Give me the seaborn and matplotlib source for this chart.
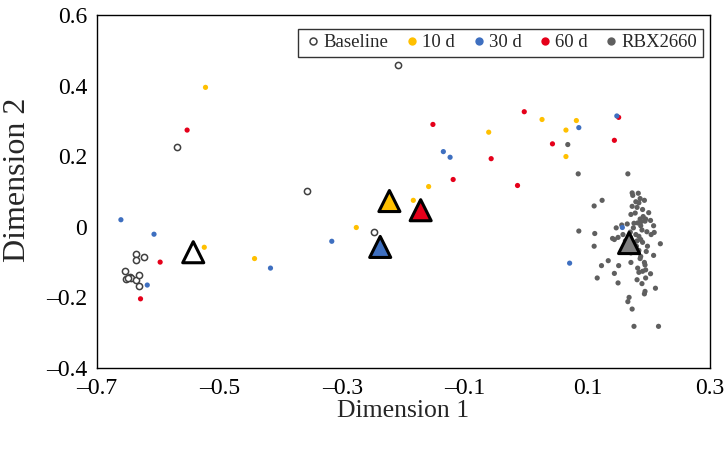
import matplotlib
matplotlib.use("Agg")
import matplotlib.pyplot as plt
import seaborn as sns
import pandas as pd
from matplotlib.lines import Line2D

sns.set_theme(style="white")
plt.rcParams['font.family'] = ['Liberation Serif', 'DejaVu Serif']

# ---- data ----
baseline_x = [-0.637, -0.623, -0.636, -0.654, -0.652, -0.646, -0.644, -0.637, -0.632, -0.632, -0.649,
              -0.570, -0.358, -0.209, -0.248]
baseline_y = [-0.077, -0.085, -0.095, -0.126, -0.147, -0.143, -0.146, -0.151, -0.137, -0.167, -0.145,
              0.227, 0.100, 0.458, -0.014]

d10_x = [-0.523, -0.525, -0.443, -0.277, -0.184, -0.159, -0.061, 0.026, 0.082, 0.065, 0.065]
d10_y = [0.395, -0.058, -0.090, -0.002, 0.075, 0.114, 0.268, 0.304, 0.301, 0.274, 0.199]

d30_x = [-0.661, -0.607, -0.618, -0.417, -0.317, -0.135, -0.124, 0.086, 0.148, 0.071, 0.157]
d30_y = [0.020, -0.021, -0.165, -0.117, -0.041, 0.213, 0.197, 0.281, 0.314, -0.103, -0.002]

d60_x = [-0.553, -0.597, -0.629, -0.152, -0.119, -0.057, -0.014, -0.003, 0.043, 0.144, 0.151]
d60_y = [0.274, -0.100, -0.204, 0.290, 0.134, 0.193, 0.117, 0.326, 0.235, 0.245, 0.310]

rbx_x = [0.085, 0.166, 0.068, 0.124, 0.111, 0.086, 0.173, 0.183, 0.174, 0.179, 0.184, 0.193, 0.190,
         0.171, 0.178, 0.191, 0.186, 0.194, 0.182, 0.188, 0.195, 0.208, 0.156, 0.147, 0.112, 0.189,
         0.197, 0.204, 0.209, 0.141, 0.144, 0.150, 0.179, 0.184, 0.187, 0.181, 0.190, 0.219, 0.111,
         0.171, 0.184, 0.196, 0.208, 0.187, 0.134, 0.123, 0.151, 0.171, 0.193, 0.194, 0.182, 0.190,
         0.195, 0.203, 0.184, 0.144, 0.116, 0.150, 0.189, 0.211, 0.194, 0.193, 0.168, 0.166, 0.173,
         0.176, 0.216, 0.176, 0.162, 0.180, 0.170, 0.187, 0.176, 0.165, 0.200, 0.181, 0.186, 0.178,
         0.198, 0.175, 0.170, 0.186, 0.203, 0.158, 0.173, 0.195, 0.181]
rbx_y = [0.150, 0.150, 0.233, 0.075, 0.059, -0.012, 0.096, 0.095, 0.089, 0.071, 0.068, 0.075, 0.049,
         0.035, 0.039, 0.029, 0.022, 0.016, 0.011, 0.015, 0.022, 0.003, 0.005, -0.003, -0.019, -0.009,
         -0.014, -0.022, -0.016, -0.033, -0.036, -0.030, -0.022, -0.027, -0.036, -0.040, -0.044, -0.048,
         -0.055, -0.074, -0.067, -0.070, -0.081, -0.084, -0.096, -0.110, -0.110, -0.101, -0.101, -0.108,
         -0.117, -0.126, -0.122, -0.133, -0.129, -0.132, -0.145, -0.159, -0.161, -0.174, -0.183, -0.190,
         -0.200, -0.212, -0.233, -0.282, -0.282, -0.045, -0.040, -0.055, -0.030, 0.003, 0.010, 0.008,
         0.040, 0.055, -0.090, -0.062, -0.055, -0.003, -0.015, 0.080, 0.018, -0.022, 0.058, -0.145, -0.150]

groups = ['Baseline', '10 d', '30 d', '60 d', 'RBX2660']
centroid_x = [-0.543, -0.223, -0.238, -0.172, 0.168]
centroid_y = [-0.072, 0.073, -0.057, 0.047, -0.046]

xtick_vals = [-0.7, -0.5, -0.3, -0.1, 0.1, 0.3]
xtick_labels = ['\u20130.7', '\u20130.5', '\u20130.3', '\u20130.1', '0.1', '0.3']
ytick_vals = [0.6, 0.4, 0.2, 0, -0.2, -0.4]
ytick_labels = ['0.6', '0.4', '0.2', '0', '\u20130.2', '\u20130.4']

colors = {'Baseline': '#ffffff', '10 d': '#ffc000', '30 d': '#3e6fc0', '60 d': '#e5001a', 'RBX2660': '#5f5f5f'}
tri_colors = {'Baseline': '#ffffff', '10 d': '#ffc000', '30 d': '#3e6fc0', '60 d': '#e5001a', 'RBX2660': '#808080'}

fig = plt.figure(figsize=(7.27, 4.49), dpi=100)
ax = fig.add_axes([97/727, 1-368/449, (710-97)/727, (368-15)/449])

sets = {
    'Baseline': (baseline_x, baseline_y),
    '10 d': (d10_x, d10_y),
    '30 d': (d30_x, d30_y),
    '60 d': (d60_x, d60_y),
    'RBX2660': (rbx_x, rbx_y),
}
draw_order = ['RBX2660', 'Baseline', '10 d', '60 d', '30 d']
for g in draw_order:
    xs, ys = sets[g]
    df = pd.DataFrame({'x': xs, 'y': ys})
    if g == 'Baseline':
        sns.scatterplot(data=df, x='x', y='y', ax=ax, marker='o', s=20,
                        facecolor='white', edgecolor='#404040', linewidth=1.1, zorder=3)
    else:
        sns.scatterplot(data=df, x='x', y='y', ax=ax, marker='o', s=14,
                        color=colors[g], edgecolor='none', linewidth=0, zorder=3)

cdf = pd.DataFrame({'x': centroid_x, 'y': centroid_y, 'g': groups})
sns.scatterplot(data=cdf, x='x', y='y', hue='g', palette=tri_colors, ax=ax, marker='^', s=230,
                edgecolor='black', linewidth=2.2, zorder=5, legend=False)

ax.set_xlim(-0.7, 0.3)
ax.set_ylim(-0.4, 0.6)
ax.set_xticks(xtick_vals)
ax.set_xticklabels(xtick_labels, fontsize=17)
ax.set_yticks(ytick_vals)
ax.set_yticklabels(ytick_labels, fontsize=17)
ax.tick_params(axis='both', which='both', direction='out', length=3, width=0.8, colors='black', pad=4)
ax.tick_params(axis='x', pad=4)
for sp in ax.spines.values():
    sp.set_color('black')
    sp.set_linewidth(1.0)
ax.set_xlabel('Dimension 1', fontsize=18.5, labelpad=1)
ax.set_ylabel('Dimension 2', fontsize=23)
ax.yaxis.set_label_coords(-0.106, 0.533)

handles = []
for g in groups:
    if g == 'Baseline':
        h = Line2D([], [], marker='o', linestyle='none', markersize=5, markerfacecolor='white',
                   markeredgecolor='#404040', markeredgewidth=1.1, label=g)
    else:
        h = Line2D([], [], marker='o', linestyle='none', markersize=6, markerfacecolor=colors[g],
                   markeredgecolor='none', label=g)
    handles.append(h)
leg = ax.legend(handles=handles, ncol=5, loc='upper right', bbox_to_anchor=(0.995, 0.972),
                frameon=True, fancybox=False, fontsize=13.5, handletextpad=0.05, columnspacing=0.75,
                handlelength=1.0, borderpad=0.3, borderaxespad=0.2)
leg.get_frame().set_edgecolor('black')
leg.get_frame().set_linewidth(1.0)

fig.savefig('out.png', dpi=100)
